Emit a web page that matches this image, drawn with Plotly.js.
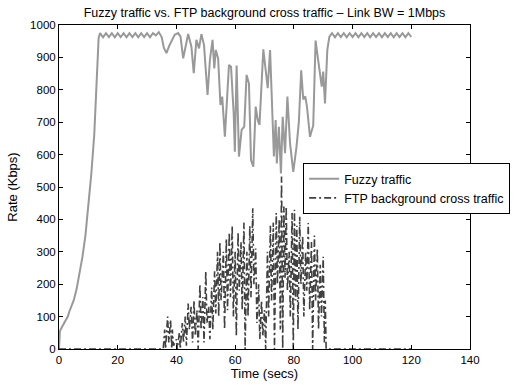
<!DOCTYPE html>
<html>
<head>
<meta charset="utf-8">
<script src="https://cdn.plot.ly/plotly-3.0.1.min.js"></script>
<style>html,body{margin:0;padding:0;background:#fff;}#chart{width:514px;height:385px;}</style>
</head>
<body>
<div id="chart"></div>
<script>
// Fuzzy traffic (Kbps) over time (secs)
var fuzzyTime = [0,0.3,1,2,3,3.5,4,5,6,7,8,9,10,11,12,12.5,13,13.5,14,15,16,17,18,19,20,21,22,23,24,25,26,27,28,29,30,31,32,33,34,35,35.7,36.6,37.5,38.3,39.4,40.6,41.4,42.3,43.2,44.0,45.1,45.9,46.8,47.7,48.5,49.4,50.6,51.4,52.3,52.9,53.4,54.2,55.0,55.6,56.5,57.0,57.9,58.6,59.5,59.9,60.5,61.3,62.2,63.1,63.9,64.7,65.4,66.2,67.0,67.7,68.3,69.6,71.1,71.9,72.8,73.2,73.8,74.2,74.9,75.6,76.2,77.0,77.8,78.7,79.8,80.9,81.7,82.5,83.2,83.9,84.5,85.5,86.6,87.4,88.3,89.5,90.0,90.6,91.4,92.1,93,94,95,96,97,98,99,100,101,102,103,104,105,106,107,108,109,110,111,112,113,114,115,116,117,118,119,120];
var fuzzyRate = [0,55,68,85,100,115,125,150,185,230,285,350,440,540,660,760,880,960,975,962,975,963,975,962,975,963,975,962,975,963,975,962,975,963,975,962,975,968,978,962,930,913,935,950,970,975,964,897,943,972,933,851,954,928,972,938,784,892,954,866,923,897,753,779,655,727,877,871,727,609,875,594,676,686,846,820,583,563,748,707,692,925,805,923,727,594,707,573,686,542,717,604,779,635,547,624,700,860,770,780,745,655,690,952,890,810,856,758,923,964,975,962,975,963,975,962,975,963,975,962,975,963,975,962,975,963,975,962,975,963,975,962,975,963,975,962,975,963];

// FTP background cross traffic (Kbps) over time (secs)
var ftpTime = [0,35.5,36,36.3,37,37.4,38,38.4,38.6,39,40,40.3,41,41.3,42,42.4,43,43.4,44,44.4,45,45.5,46,46.4,47,47.4,48,48.4,49,49.4,50,50.4,51,51.4,52,52.4,53,53.4,54,54.4,54.8,55.2,56,56.4,57,57.4,58,58.4,59,59.4,60,60.4,61,61.4,62,62.4,63,63.4,64,64.4,65,65.4,66,66.4,67,67.4,68,68.4,69,69.4,70,70.4,71,71.4,72,72.4,73,73.4,74,74.4,75,75.4,75.8,76.2,76.6,77,77.4,77.8,78.4,78.8,79.4,79.8,80.2,80.6,81,81.4,82,82.4,83,83.4,84,84.4,84.9,85.4,86,86.4,87,87.4,88,88.4,89,89.4,90,90.4,90.7,91,120];
var ftpRate = [0,0,60,0,100,20,90,0,60,10,30,0,50,0,80,20,100,10,140,60,130,20,150,40,120,0,200,60,160,20,240,80,130,30,190,60,240,110,300,100,330,150,300,60,340,120,360,160,380,100,300,40,360,180,330,120,390,0,300,100,380,160,434,200,310,80,200,30,150,40,120,0,300,100,380,150,390,0,420,200,400,60,532,0,440,220,440,180,300,100,420,0,430,150,380,60,408,200,350,100,300,180,389,120,330,0,350,150,310,60,260,100,285,20,150,0,0];

var seriesNames = ['Fuzzy traffic', 'FTP background cross traffic'];
var xTicks = [0,20,40,60,80,100,120,140];
var yTicks = [0,100,200,300,400,500,600,700,800,900,1000];

var traces = [
  {x: fuzzyTime, y: fuzzyRate, name: seriesNames[0], type: 'scatter', mode: 'lines',
   line: {color: '#999999', width: 2}},
  {x: ftpTime, y: ftpRate, name: seriesNames[1], type: 'scatter', mode: 'lines',
   line: {color: '#404040', width: 1.6, dash: '7px,3px,2px,3px'}}
];

var layout = {
  width: 514, height: 385,
  margin: {l: 59, r: 44, t: 25, b: 36, pad: 0, autoexpand: false},
  paper_bgcolor: '#fff', plot_bgcolor: '#fff',
  font: {family: 'Liberation Sans, Arial, sans-serif', size: 11.5, color: '#000'},
  showlegend: true,
  title: {text: 'Fuzzy traffic vs. FTP background cross traffic \u2013 Link BW = 1Mbps',
          x: 0.5, xref: 'paper', y: 0.968, yref: 'container', yanchor: 'middle',
          font: {size: 12.5, color: '#000'}},
  xaxis: {range: [0, 140], tickvals: xTicks, ticktext: xTicks.map(String),
          ticks: 'inside', ticklen: 4, tickcolor: '#000', showline: true, linecolor: '#000', linewidth: 1,
          mirror: 'ticks', showgrid: false, zeroline: false, tickfont: {size: 11.5},
          title: {text: 'Time (secs)', standoff: 2, font: {size: 13}}},
  yaxis: {range: [0, 1000], tickvals: yTicks, ticktext: yTicks.map(String),
          ticks: 'inside', ticklen: 4, tickcolor: '#000', showline: true, linecolor: '#000', linewidth: 1,
          mirror: 'ticks', showgrid: false, zeroline: false, tickfont: {size: 11.5},
          title: {text: 'Rate (Kbps)', standoff: 9, font: {size: 13}}},
  legend: {x: 0.594, y: 0.574, xanchor: 'left', yanchor: 'top', bgcolor: '#fff',
           bordercolor: '#000', borderwidth: 1, font: {size: 12.5}, tracegroupgap: 0,
           itemwidth: 30}
};

Plotly.newPlot('chart', traces, layout, {displayModeBar: false, staticPlot: true});
</script>
</body>
</html>
